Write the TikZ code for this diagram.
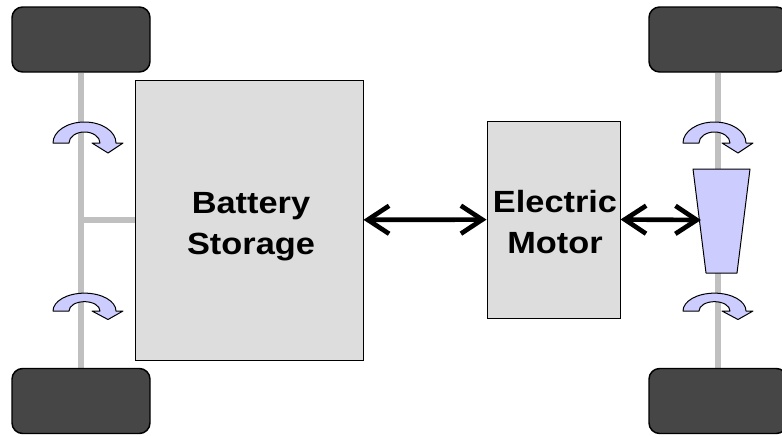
\documentclass[tikz,border=0pt]{standalone}
\usepackage{fontspec}
\newfontfamily\lblfont[FakeStretch=1.12]{Liberation Sans}
\usetikzlibrary{arrows.meta,backgrounds}
\definecolor{boxgray}{HTML}{DDDDDD}
\definecolor{axlegray}{HTML}{C0C0C0}
\definecolor{tyre}{HTML}{464646}
\definecolor{lilac}{HTML}{CCCCFF}
\tikzstyle{wheel}=[draw=black, line width=1.1pt, fill=tyre, rounded corners=8pt, minimum width=103.5pt, minimum height=48.75pt, inner sep=0pt]
\tikzstyle{unit}=[draw=black, line width=0.75pt, fill=boxgray, inner sep=0pt]
\tikzstyle{unitlabel}=[inner sep=0pt, align=center, font=\lblfont\bfseries\fontsize{23}{31}\selectfont]
\tikzstyle{axle}=[draw=axlegray, line width=4.5pt]
\tikzstyle{turnarrow}=[draw=black, line width=0.75pt, fill=lilac, line join=round]
\tikzstyle{link}=[line width=3.5pt, {Straight Barb[length=16pt,width=21pt]}-{Straight Barb[length=16pt,width=21pt]}]
\tikzset{
  turn/.pic={
    \draw[turnarrow] (-31.5,0) arc[start angle=180,end angle=360,x radius=31.5,y radius=21]
      -- (38.5,0) -- (23.5,10) -- (7.5,0) -- (15.5,0)
      arc[start angle=0,end angle=-180,x radius=15.5,y radius=11] -- cycle;
  }
}
\begin{document}
\begin{tikzpicture}[x=0.75pt, y=-0.75pt]
\useasboundingbox (0,0) rectangle (782,436);
% wheels
\node[wheel] (wheelTL) at (81,39.5) {};
\node[wheel] (wheelBL) at (81,401) {};
\node[wheel] (wheelTR) at (718,39.5) {};
\node[wheel] (wheelBR) at (718,401) {};
% boxes
\node[unit, minimum width=171pt, minimum height=210pt] (battery) at (249,220) {};
\node[unit, minimum width=99.75pt, minimum height=147.75pt] (motor) at (553.5,219.5) {};
\node[unitlabel] (batterylabel) at (251,227) {Battery\\Storage};
\node[unitlabel] (motorlabel) at (555,222) {Electric\\Motor};
\coordinate (junction) at (81,220);
\begin{scope}[on background layer]
\draw[axle] (wheelTL) -- (wheelBL);
\draw[axle] (wheelTR) -- (wheelBR);
\draw[axle] (junction) -- (battery.west);
\end{scope}
% turning arrows
\foreach \x in {84.5,714.5} {
	\pic at (\x,143) {turn};
	\pic[yscale=0.85] at (\x,311) {turn};
}
% differential
\coordinate (d1) at (693,169);
\coordinate (d2) at (750,169);
\coordinate (d3) at (737,273);
\coordinate (d4) at (706,273);
\draw[turnarrow] (d1) -- (d2) -- (d3) -- (d4) -- cycle;
\coordinate (diff) at (701,220);
\draw[link] (battery) -- (motor);
\draw[link] (motor.east) -- (diff);
\end{tikzpicture}
\end{document}
